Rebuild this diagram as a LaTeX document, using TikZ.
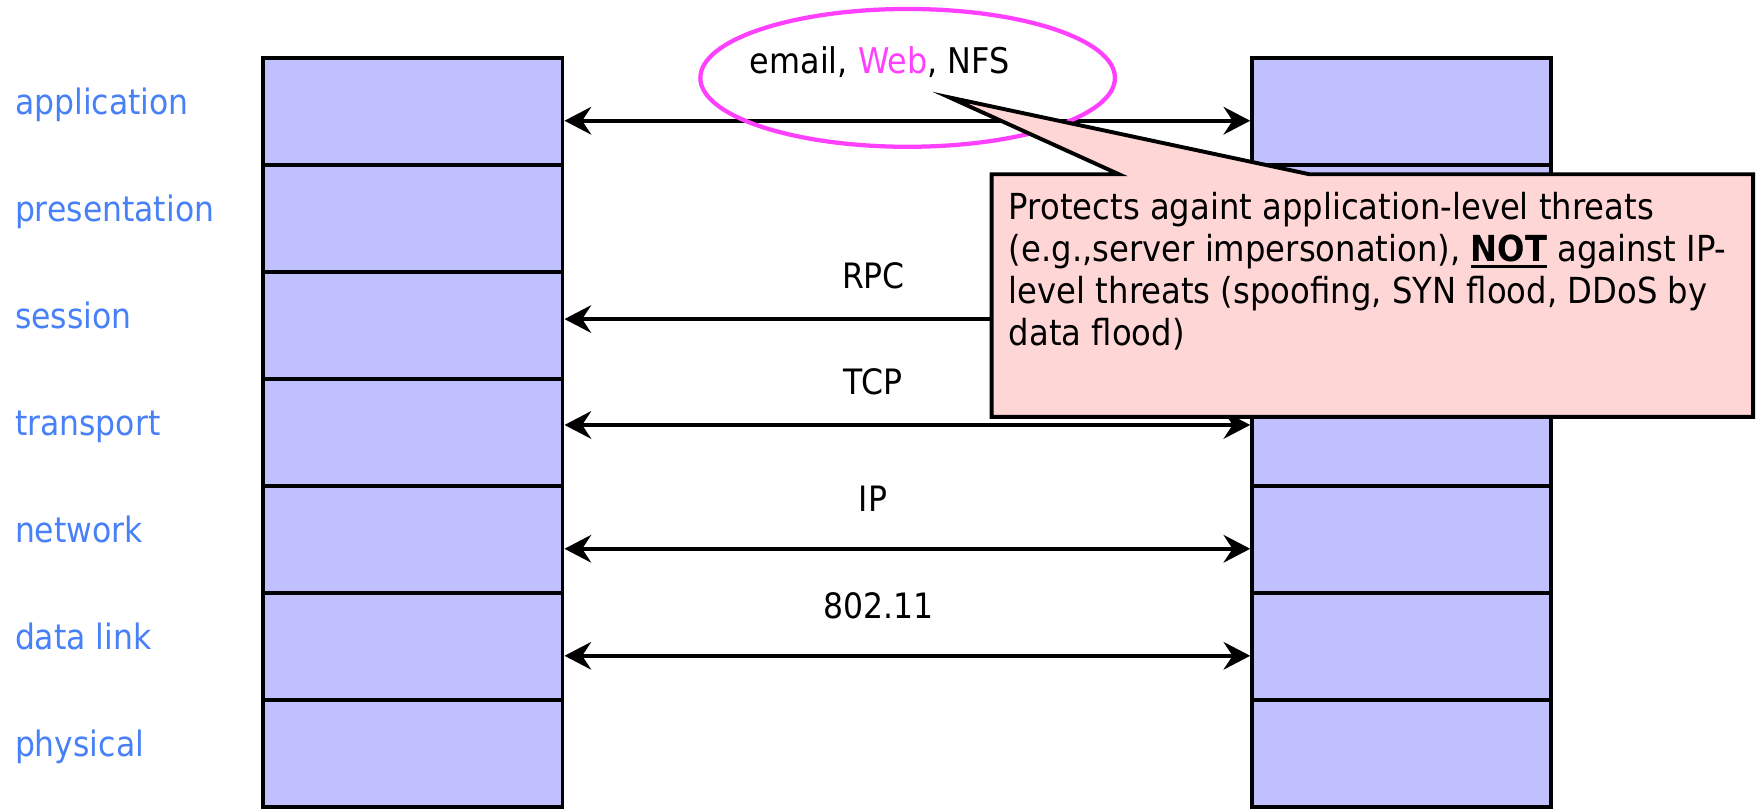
\documentclass[tikz,border=0pt]{standalone}
\usepackage{fontspec}
\setmainfont{DejaVu Sans}[FakeStretch=0.9]
\usetikzlibrary{arrows.meta,shapes.geometric}

\definecolor{stackfill}{RGB}{192,192,255}
\definecolor{layerblue}{RGB}{72,128,248}
\definecolor{notepink}{RGB}{255,214,214}
\definecolor{webpink}{RGB}{255,64,255}

% bold word with a heavier underline
\newcommand{\boldunder}[1]{\setbox0=\hbox{\textbf{#1}}\rlap{\rule[-2.6pt]{\wd0}{1.2pt}}\box0\relax}

\begin{document}
\begin{tikzpicture}[x=0.5pt, y=-0.5pt, > = {Stealth[length=11.9pt, width=12.3pt, inset=4pt]},
    osibox/.style = {draw, line width=1.75pt, fill=stackfill, minimum width=133.5pt, minimum height=47.75pt, inner sep=0pt},
    layername/.style = {anchor=base west, inner sep=0pt, text=layerblue, font=\fontsize{15.6}{19}\selectfont},
    proto/.style = {inner sep=0pt, font=\fontsize{15.6}{19}\selectfont},
    peer/.style = {line width=1.75pt, <->},
    callout/.style = {draw, line width=1.75pt, fill=notepink, line join=miter}]

    \useasboundingbox (0,0) rectangle (1568,722);

    % the two protocol stacks
    \foreach \n [count=\i] in {application,presentation,session,transport,network,data link,physical}
    {
        \node[osibox] (L\i) at (368.5, {52+95.5*(\i-0.5)}) {};
        \node[osibox] (R\i) at (1251, {52+95.5*(\i-0.5)}) {};
        \node[layername] (N\i) at (13, {54+95.5*(\i-0.5)}) {\n};
    }

    % peer protocols
    \draw[peer] ([yshift=-4pt]L1.east) -- ([yshift=-4pt]R1.west);
    \draw[peer] ([yshift=3pt]L3.east) -- ([yshift=3pt]R3.west);
    \draw[peer] ([yshift=3.5pt]L4.east) -- ([yshift=3.5pt]R4.west);
    \draw[peer] ([yshift=-4pt]L5.east) -- ([yshift=-4pt]R5.west);
    \draw[peer] ([yshift=-4pt]L6.east) -- ([yshift=-4pt]R6.west);

    \node[proto] (rpc) at (779.5,246.5) {RPC};
    \node[proto] (tcp) at (779,341) {TCP};
    \node[proto] (ip) at (779,445.5) {IP};
    \node[proto] (wlan) at (784,540.5) {802.11};

    % applications
    \node[draw=webpink, line width=1.9pt, ellipse, minimum width=185pt, minimum height=61.5pt] (ring) at (810,69.5) {};
    \node[proto, anchor=base west, font=\fontsize{15.8}{19}\selectfont] (apps) at (668.8,66) {email, \textcolor{webpink}{Web}, NFS};

    % the note
    \coordinate (tip) at (847.5,87);
    \filldraw[callout] (885,155.5) -- (998.5,155.5) -- (tip) -- (1168.5,155.5) -- (1564.5,155.5) -- (1564.5,372) -- (885,372) -- cycle;
    \node[anchor=north west, inner sep=0pt, align=left, font=\fontsize{16}{18.7}\selectfont] (note) at (900,171.5)
        {Protects againt application-level threats\\
         (e.g.,server impersonation), \boldunder{NOT} against IP-\\
         level threats (spoofing, SYN flood, DDoS by\\
         data flood)};

\end{tikzpicture}
\end{document}
